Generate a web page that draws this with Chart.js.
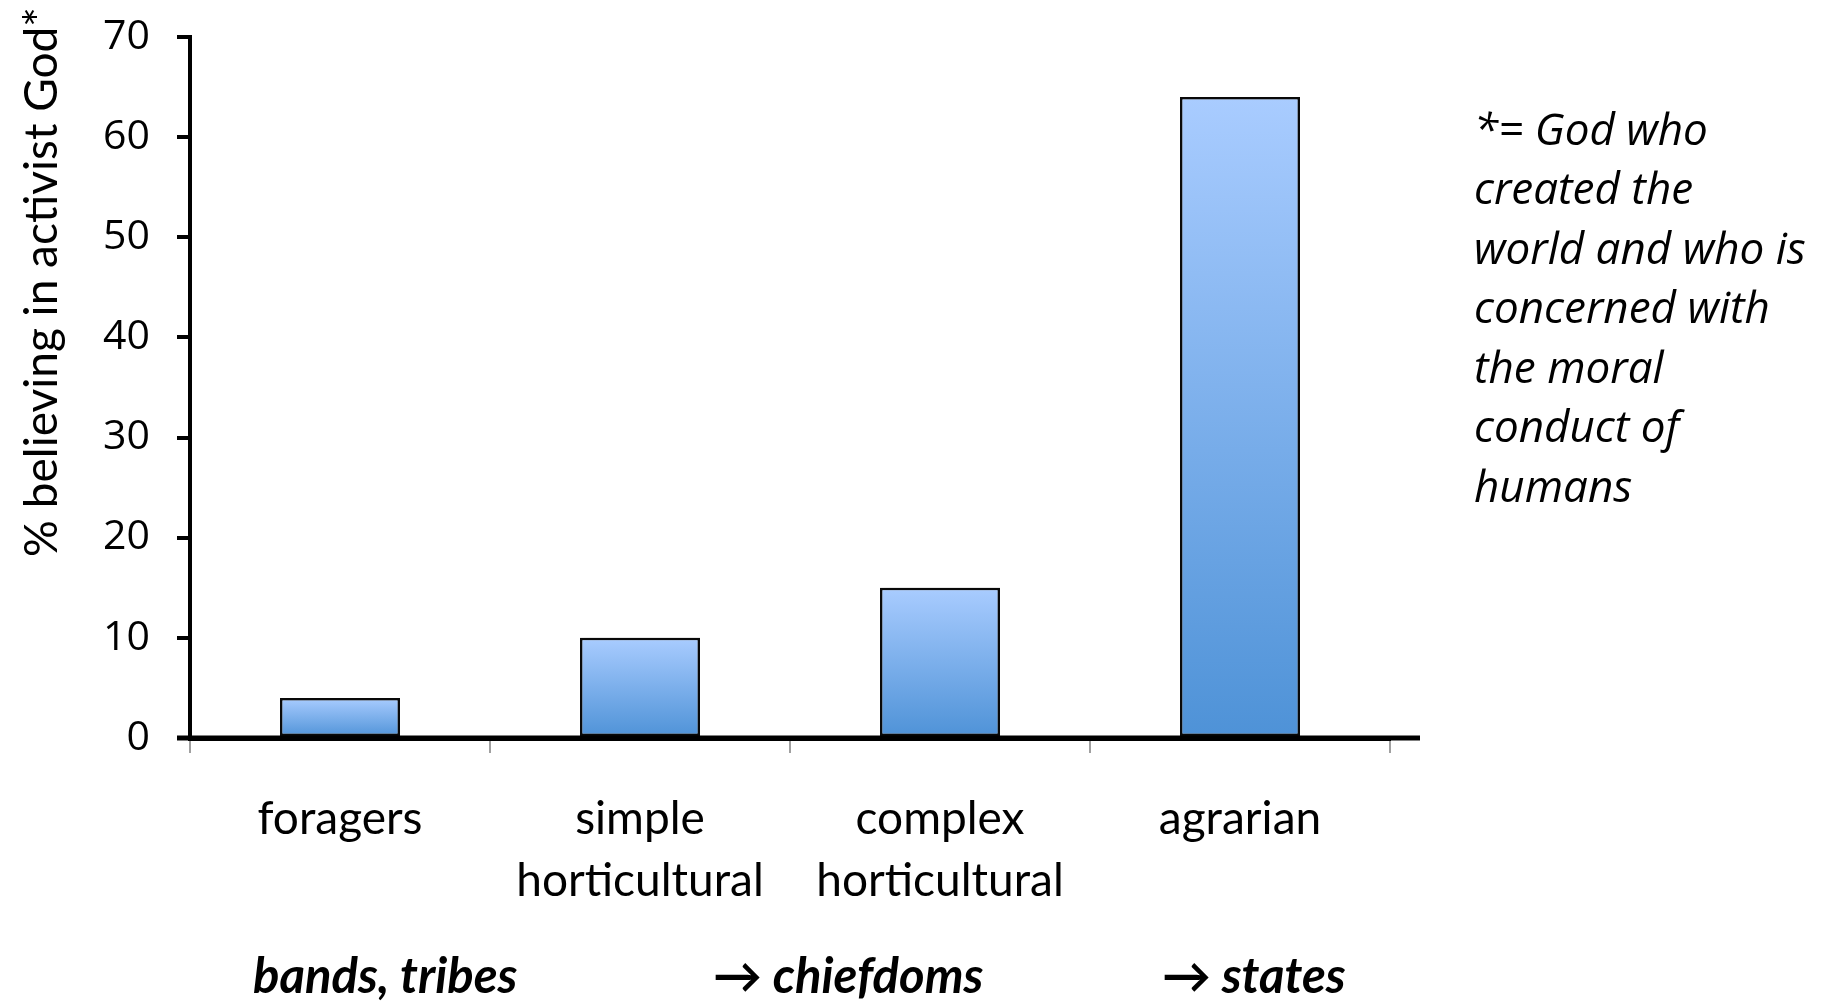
<!DOCTYPE html>
<html>
<head>
<meta charset="utf-8">
<style>
  html, body { margin: 0; padding: 0; background: #ffffff; }
  #wrap { width: 1828px; height: 1003px; position: relative; }
  canvas { display: block; }
</style>
<script src="https://cdn.jsdelivr.net/npm/chart.js@4/dist/chart.umd.min.js"></script>
</head>
<body>
<div id="wrap"><canvas id="chart" width="1828" height="1003"></canvas></div>
<script>
// Share of societies believing in an activist God, by subsistence type
const categories = [
  ['foragers'],
  ['simple', 'horticultural'],
  ['complex', 'horticultural'],
  ['agrarian']
];
const percentBelieving = [4, 10, 15, 64];
const yTicks = [0, 10, 20, 30, 40, 50, 60, 70];
const yAxisTitle = '% believing in activist God*';
const stageLabels = ['bands, tribes', '\u2192 chiefdoms', '\u2192 states'];
const footnoteLines = [
  '*= God who',
  'created the',
  'world and who is',
  'concerned with',
  'the moral',
  'conduct of',
  'humans'
];

const LABEL_FONT = 'Lato, "Open Sans", sans-serif';

// Vertical blue gradient for each bar, light at the top, deeper at the base
function barGradient(ctx) {
  const chart = ctx.chart;
  if (ctx.type !== 'data' || !chart.chartArea) return '#7fb0ec';
  const y = chart.scales.y;
  const top = y.getPixelForValue(ctx.raw);
  const base = y.getPixelForValue(0);
  const g = chart.ctx.createLinearGradient(0, top, 0, base);
  g.addColorStop(0, '#a9ccff');
  g.addColorStop(1, '#4e92d7');
  return g;
}

// Soft drop shadow behind the bars
const barShadow = {
  id: 'barShadow',
  beforeDatasetsDraw(chart) {
    const c = chart.ctx;
    c.save();
    c.shadowColor = 'rgba(0,0,0,0.30)';
    c.shadowBlur = 6;
    c.shadowOffsetX = 2;
    c.shadowOffsetY = 0;
  },
  afterDatasetsDraw(chart) {
    chart.ctx.restore();
  }
};

// Extra decorations: axis title, extended baseline, stage captions, footnote
const decorations = {
  id: 'decorations',
  afterDraw(chart) {
    const c = chart.ctx;
    const area = chart.chartArea;
    const y = chart.scales.y;
    c.save();

    // baseline runs slightly past both ends of the plot
    const y0 = y.getPixelForValue(0);
    c.strokeStyle = '#000';
    c.lineWidth = 5;
    c.beginPath();
    c.moveTo(area.left - 13, y0);
    c.lineTo(area.right + 30, y0);
    c.stroke();

    // rotated y-axis title
    c.fillStyle = '#000';
    c.font = '46px ' + LABEL_FONT;
    c.textAlign = 'center';
    c.textBaseline = 'middle';
    c.translate(42, 282);
    c.rotate(-Math.PI / 2);
    c.fillText(yAxisTitle, 0, 0);
    c.setTransform(1, 0, 0, 1, 0, 0);

    // stage captions under the categories
    c.font = 'italic bold 49px ' + LABEL_FONT;
    c.textAlign = 'left';
    c.textBaseline = 'middle';
    const stageLeft = [253, 713, 1162];
    stageLabels.forEach((t, i) => c.fillText(t, stageLeft[i], 977));

    // footnote on the right
    c.font = 'italic 44px "Open Sans", sans-serif';
    c.textAlign = 'left';
    c.textBaseline = 'middle';
    footnoteLines.forEach((t, i) => c.fillText(t, 1474, 132 + i * 59.5));

    c.restore();
  }
};

new Chart(document.getElementById('chart'), {
  type: 'bar',
  data: {
    labels: categories,
    datasets: [{
      data: percentBelieving,
      backgroundColor: barGradient,
      borderColor: '#0a0a0a',
      borderWidth: 2.5,
      borderSkipped: false,
      categoryPercentage: 1.0,
      barPercentage: 0.4
    }]
  },
  options: {
    responsive: false,
    animation: false,
    events: [],
    layout: { padding: { left: 0, right: 438, top: 37, bottom: 0 } },
    plugins: {
      legend: { display: false },
      title: { display: false },
      tooltip: { enabled: false }
    },
    scales: {
      x: {
        offset: true,
        border: { display: true, color: '#000', width: 5 },
        grid: {
          offset: true,
          drawOnChartArea: false,
          drawTicks: true,
          tickLength: 15,
          color: '#a0a0a0',
          lineWidth: 2
        },
        ticks: {
          color: '#000',
          font: { family: LABEL_FONT, size: 46, lineHeight: 1.33 },
          padding: 36,
          maxRotation: 0,
          autoSkip: false
        },
        afterFit(scale) {
          scale.height = 265;
          scale.paddingLeft = 0;
          scale.paddingRight = 0;
        }
      },
      y: {
        min: 0,
        max: 70,
        afterBuildTicks(scale) { scale.ticks = yTicks.map(v => ({ value: v })); },
        border: { display: true, color: '#000', width: 4 },
        grid: {
          drawOnChartArea: false,
          drawTicks: true,
          tickLength: 13,
          color: '#000',
          lineWidth: 4
        },
        ticks: {
          color: '#000',
          font: { family: '"Open Sans", sans-serif', size: 41 },
          padding: 27
        },
        afterFit(scale) {
          scale.width = 190;
          scale.paddingTop = 0;
          scale.paddingBottom = 0;
        }
      }
    }
  },
  plugins: [barShadow, decorations]
});
</script>
</body>
</html>
